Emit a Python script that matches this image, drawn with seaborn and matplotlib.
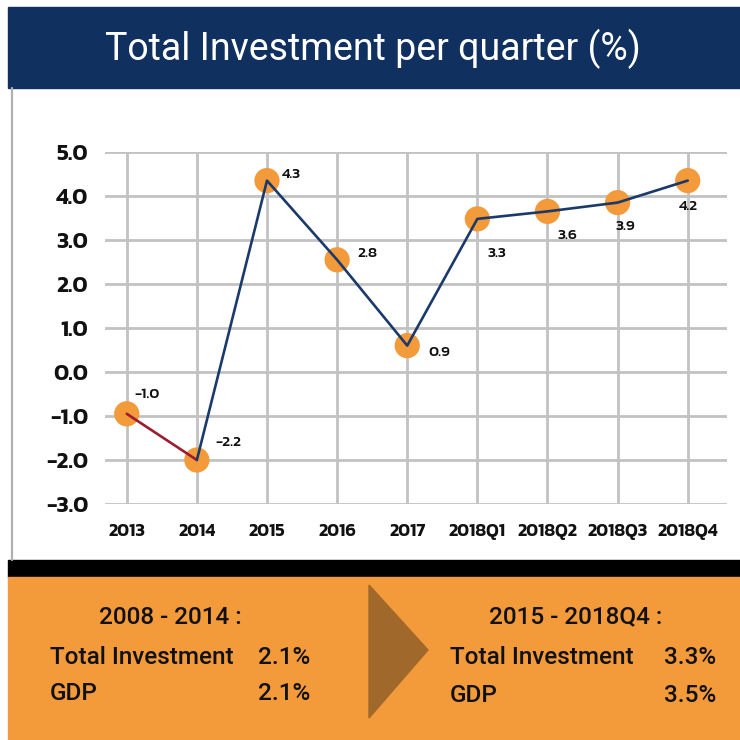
import numpy as np
import pandas as pd
import matplotlib
matplotlib.use("Agg")
import matplotlib.pyplot as plt
import seaborn as sns
from matplotlib.patches import Rectangle, Polygon

# Values
periods = ["2013", "2014", "2015", "2016", "2017", "2018Q1", "2018Q2", "2018Q3", "2018Q4"]
values = [-0.95, -2.0, 4.35, 2.55, 0.6, 3.48, 3.65, 3.85, 4.35]
value_labels = ["-1.0", "-2.2", "4.3", "2.8", "0.9", "3.3", "3.6", "3.9", "4.2"]
y_ticks = [5.0, 4.0, 3.0, 2.0, 1.0, 0.0, -1.0, -2.0, -3.0]

left_title = "2008 - 2014 :"
right_title = "2015 - 2018Q4 :"
left_rows = [("Total Investment", "2.1%"), ("GDP", "2.1%")]
right_rows = [("Total Investment", "3.3%"), ("GDP", "3.5%")]

NAVY = "#10305f"
LINE_NAVY = "#1b3a6b"
RED = "#9c1c30"
ORANGE = "#f39a3a"
BROWN = "#a0682a"
GRID = "#c2c2c2"

HEAD = ["Roboto", "DejaVu Sans"]
KANIT = ["Kanit", "DejaVu Sans"]

sns.set_theme(style="white")
plt.rcParams["font.family"] = KANIT

W = H = 740
fig = plt.figure(figsize=(7.4, 7.4), dpi=100)


def fx(px):
    return px / W


def fy(py):
    return 1 - py / H


# header band + title
fig.patches.append(Rectangle((fx(8), fy(88)), fx(732), 81 / H, transform=fig.transFigure,
                             color=NAVY, zorder=0))
fig.text(fx(373), fy(49), "Total Investment per quarter (%)", color="white",
         fontsize=27, family=HEAD, fontweight=400, ha="center", va="center")

# left grey rule
fig.lines.append(plt.Line2D([fx(12), fx(12)], [fy(88), fy(560)], transform=fig.transFigure,
                            color="#b0b0b0", lw=1.6))

# main line chart
df = pd.DataFrame({"period": periods, "value": values})
ax = fig.add_axes([fx(105), fy(504), fx(727 - 105), (504 - 152) / H])
sns.scatterplot(data=df, x="period", y="value", ax=ax, s=330, color=ORANGE,
                edgecolor="none", zorder=2)
sns.lineplot(data=df.iloc[:2], x="period", y="value", ax=ax, sort=False,
             color=RED, lw=1.9, zorder=3)
sns.lineplot(data=df.iloc[1:], x="period", y="value", ax=ax, sort=False,
             color=LINE_NAVY, lw=1.9, zorder=3)

# label offsets in pixels (dx, dy, ha)
offsets = [(8, 19, "left"), (19, 17, "left"), (15, 6, "left"), (20, 6, "left"),
           (21, -7, "left"), (10, -35, "left"), (10, -24, "left"), (8, -24, "center"),
           (1, -26, "center")]
for i, (lab, v) in enumerate(zip(value_labels, values)):
    dx, dy, ha = offsets[i]
    ax.annotate(lab, (i, v), xytext=(dx, dy), textcoords="offset pixels",
                ha=ha, va="center", fontsize=11, fontweight=500, color="#111111")

ax.set_ylim(-3, 5)
ax.set_xlim(-0.31, len(periods) - 1 + 0.56)
ax.set_yticks(y_ticks)
ax.set_yticklabels([f"{t:.1f}" for t in y_ticks], fontsize=16.5, fontweight=600,
                   color="#111111")
ax.set_xticks(range(len(periods)))
ax.set_xticklabels(periods, fontsize=13, fontweight=600, color="#111111")
ax.tick_params(axis="y", length=0, pad=12)
ax.tick_params(axis="x", length=0, pad=14)
ax.set_xlabel("")
ax.set_ylabel("")
ax.grid(True, color=GRID, lw=2)
ax.set_axisbelow(True)
sns.despine(ax=ax, left=True, bottom=True)
if ax.get_legend():
    ax.get_legend().remove()

# bottom summary panel
fig.patches.append(Rectangle((fx(8), fy(577)), fx(732), 17 / H, transform=fig.transFigure,
                             color="black", zorder=0))
fig.patches.append(Rectangle((fx(8), 0), fx(732), fy(577), transform=fig.transFigure,
                             color=ORANGE, zorder=0))
fig.patches.append(Polygon([(fx(369), fy(585)), (fx(428), fy(650)), (fx(369), fy(718))],
                           closed=True, transform=fig.transFigure, color=BROWN, zorder=1))

txt = dict(family=HEAD, fontsize=17.5, fontweight=500, color="#111111", va="center")
fig.text(fx(170), fy(617), left_title, ha="center", **txt)
fig.text(fx(576), fy(617), right_title, ha="center", **txt)
for k, (name, val) in enumerate(left_rows):
    yy = fy(658 + 36 * k)
    fig.text(fx(50), yy, name, ha="left", **txt)
    fig.text(fx(310), yy, val, ha="right", **txt)
for k, (name, val) in enumerate(right_rows):
    yy = fy(658 + 38 * k)
    fig.text(fx(450), yy, name, ha="left", **txt)
    fig.text(fx(716), yy, val, ha="right", **txt)

fig.savefig("out.png", dpi=100, facecolor="white")
